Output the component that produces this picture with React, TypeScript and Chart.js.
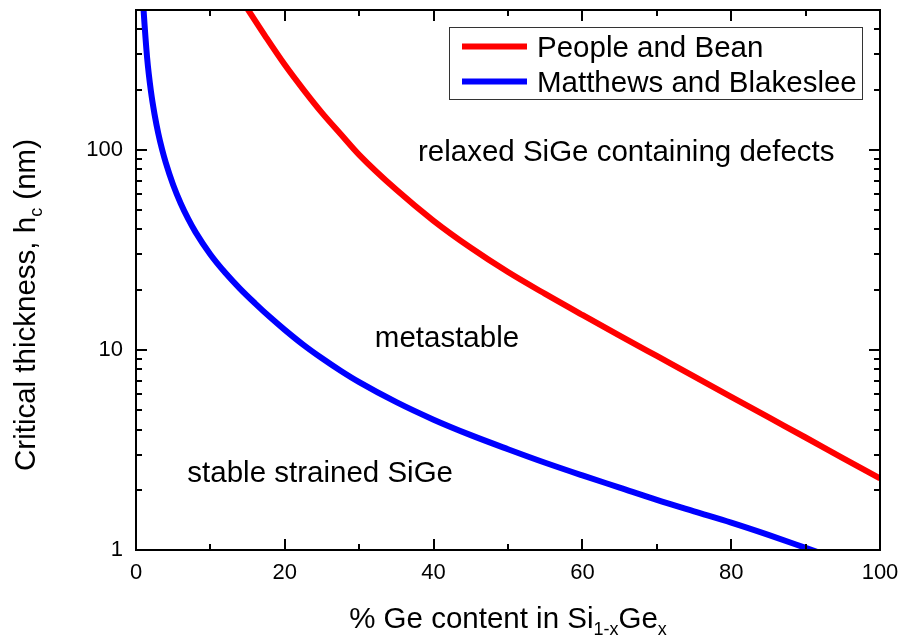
import { useEffect, useRef } from "react";
import { Chart, registerables } from "chart.js";

Chart.register(...registerables);

// ---- data ----
const peopleBeanX = [14.5, 15, 17.5, 20, 22.5, 25, 27.5, 30, 35, 40, 45, 50, 55, 60, 65, 70, 75, 80, 85, 90, 95, 100];
const peopleBeanH = [539, 505, 364, 266, 200, 153, 120, 94.4, 63.1, 44.2, 32.4, 24.5, 19.05, 14.96, 11.8, 9.33, 7.38, 5.83, 4.61, 3.65, 2.88, 2.28];

const matthewsX = [0.9, 1, 1.5, 2, 2.5, 3, 3.5, 4, 5, 6, 7, 8, 10, 12, 14, 16, 18, 20, 22.5, 25, 27.5, 30, 35, 40, 45, 50, 55, 60, 65, 70, 75, 80, 85, 90, 92];
const matthewsH = [594, 512, 287, 197, 150, 120.5, 100.6, 86.3, 66.7, 54.1, 45.3, 38.8, 30.0, 24.3, 20.2, 17.1, 14.6, 12.6, 10.6, 9.08, 7.87, 6.9, 5.48, 4.48, 3.75, 3.19, 2.73, 2.36, 2.05, 1.78, 1.56, 1.37, 1.19, 1.025, 0.965];

const seriesLabels = ["People and Bean", "Matthews and Blakeslee"];
const seriesColors = ["#ff0000", "#0000ff"];

const xMin = 0;
const xMax = 100;
const yMin = 1;
const yMax = 500;
const xMajorTicks = [0, 20, 40, 60, 80, 100];
const xMinorTicks = [10, 30, 50, 70, 90];
const yMajorTicks = [1, 10, 100];
const yMinorTicks = [2, 3, 4, 5, 6, 7, 8, 9, 20, 30, 40, 50, 60, 70, 80, 90, 200, 300, 400];

const regionTexts = ["relaxed SiGe containing defects", "metastable", "stable strained SiGe"];
// anchor (data coordinates, left/baseline) for each region text
const regionAnchors = [
  { x: 37.9, y: 88 },
  { x: 32.1, y: 10.4 },
  { x: 6.9, y: 2.18 },
];

const xTitleParts = [
  { t: "% Ge content in Si" },
  { t: "1-x", sub: true },
  { t: "Ge" },
  { t: "x", sub: true },
];
const yTitleParts = [
  { t: "Critical thickness, h" },
  { t: "c", sub: true },
  { t: " (nm)" },
];

const FONT = "'Liberation Sans', Arial, sans-serif";
const BIG = 29.5;
const SUB = 18;

function drawRich(ctx: CanvasRenderingContext2D, parts: { t: string; sub?: boolean }[], cx: number, baseline: number) {
  let total = 0;
  const widths = parts.map((p) => {
    ctx.font = `${p.sub ? SUB : BIG}px ${FONT}`;
    const w = ctx.measureText(p.t).width;
    total += w;
    return w;
  });
  let x = cx - total / 2;
  ctx.textAlign = "left";
  ctx.textBaseline = "alphabetic";
  parts.forEach((p, i) => {
    ctx.font = `${p.sub ? SUB : BIG}px ${FONT}`;
    ctx.fillText(p.t, x, baseline + (p.sub ? 7 : 0));
    x += widths[i];
  });
}

const decorPlugin = {
  id: "decor",
  afterDraw(chart: any) {
    const ctx: CanvasRenderingContext2D = chart.ctx;
    const { left, right, top, bottom } = chart.chartArea;
    const xs = chart.scales.x;
    const ys = chart.scales.y;
    ctx.save();
    ctx.strokeStyle = "#000";
    ctx.fillStyle = "#000";

    // ticks (inward, all four sides)
    ctx.lineWidth = 2;
    const tick = (x1: number, y1: number, x2: number, y2: number) => {
      ctx.beginPath();
      ctx.moveTo(x1, y1);
      ctx.lineTo(x2, y2);
      ctx.stroke();
    };
    xMajorTicks.forEach((v) => {
      const px = Math.round(xs.getPixelForValue(v));
      tick(px, bottom, px, bottom - 11);
      tick(px, top, px, top + 11);
    });
    xMinorTicks.forEach((v) => {
      const px = Math.round(xs.getPixelForValue(v));
      tick(px, bottom, px, bottom - 6);
      tick(px, top, px, top + 6);
    });
    yMajorTicks.forEach((v) => {
      const py = Math.round(ys.getPixelForValue(v));
      tick(left, py, left + 11, py);
      tick(right, py, right - 11, py);
    });
    yMinorTicks.forEach((v) => {
      const py = Math.round(ys.getPixelForValue(v));
      tick(left, py, left + 6, py);
      tick(right, py, right - 6, py);
    });

    // frame
    ctx.lineWidth = 2;
    ctx.strokeRect(left, top, right - left, bottom - top);

    // region texts
    ctx.font = `${BIG}px ${FONT}`;
    ctx.textAlign = "left";
    ctx.textBaseline = "alphabetic";
    regionTexts.forEach((t, i) => {
      const a = regionAnchors[i];
      ctx.fillText(t, xs.getPixelForValue(a.x), ys.getPixelForValue(a.y));
    });

    // legend
    const lx = 449, ly = 27, lw = 413, lh = 72;
    ctx.lineWidth = 1;
    ctx.strokeStyle = "#333";
    ctx.strokeRect(lx + 0.5, ly + 0.5, lw, lh);
    seriesLabels.forEach((lab, i) => {
      const cy = ly + 19.5 + i * 35;
      ctx.strokeStyle = seriesColors[i];
      ctx.lineWidth = 6;
      ctx.beginPath();
      ctx.moveTo(lx + 13, cy);
      ctx.lineTo(lx + 78, cy);
      ctx.stroke();
      ctx.fillStyle = "#000";
      ctx.font = `${BIG}px ${FONT}`;
      ctx.textBaseline = "alphabetic";
      ctx.fillText(lab, lx + 88, cy + 10.5);
    });

    // axis titles
    ctx.fillStyle = "#000";
    drawRich(ctx, xTitleParts, (left + right) / 2, 628);
    ctx.save();
    ctx.translate(35, 305);
    ctx.rotate(-Math.PI / 2);
    drawRich(ctx, yTitleParts, 0, 0);
    ctx.restore();

    ctx.restore();
  },
};

function zeroPadding(s: any) {
  s.paddingTop = 0;
  s.paddingBottom = 0;
  s.paddingLeft = 0;
  s.paddingRight = 0;
}

export default function App() {
  const ref = useRef<HTMLCanvasElement | null>(null);
  useEffect(() => {
    if (!ref.current) return;
    const chart = new Chart(ref.current, {
      type: "line",
      data: {
        datasets: [
          {
            label: seriesLabels[0],
            data: peopleBeanX.map((x, i) => ({ x, y: peopleBeanH[i] })),
            borderColor: seriesColors[0],
            backgroundColor: seriesColors[0],
            borderWidth: 6,
            pointRadius: 0,
            cubicInterpolationMode: "monotone",
            clip: 0,
          },
          {
            label: seriesLabels[1],
            data: matthewsX.map((x, i) => ({ x, y: matthewsH[i] })),
            borderColor: seriesColors[1],
            backgroundColor: seriesColors[1],
            borderWidth: 6,
            pointRadius: 0,
            cubicInterpolationMode: "monotone",
            clip: 0,
          },
        ],
      },
      options: {
        animation: false,
        responsive: false,
        layout: { autoPadding: false, padding: { top: 10, right: 23, left: 0, bottom: 0 } },
        plugins: { legend: { display: false }, tooltip: { enabled: false } },
        scales: {
          x: {
            type: "linear",
            min: xMin,
            max: xMax,
            grid: { display: false, drawTicks: false },
            border: { display: false },
            afterBuildTicks: (s: any) => {
              s.ticks = xMajorTicks.map((v) => ({ value: v }));
            },
            afterFit: (s: any) => {
              s.height = 88;
              zeroPadding(s);
            },
            ticks: {
              padding: 10,
              color: "#000",
              font: { family: FONT, size: 22 },
              maxRotation: 0,
              callback: (v: any) => String(v),
            },
          },
          y: {
            type: "logarithmic",
            min: yMin,
            max: yMax,
            grid: { display: false, drawTicks: false },
            border: { display: false },
            afterBuildTicks: (s: any) => {
              s.ticks = yMajorTicks.map((v) => ({ value: v }));
            },
            afterFit: (s: any) => {
              s.width = 136;
              zeroPadding(s);
            },
            ticks: {
              padding: 13,
              color: "#000",
              font: { family: FONT, size: 22 },
              callback: (v: any) => String(v),
            },
          },
        },
      },
      plugins: [decorPlugin],
    } as any);
    return () => chart.destroy();
  }, []);
  return (
    <div style={{ position: "absolute", left: 0, top: 0, width: 903, height: 638, background: "#fff" }}>
      <canvas ref={ref} width={903} height={638} />
    </div>
  );
}
